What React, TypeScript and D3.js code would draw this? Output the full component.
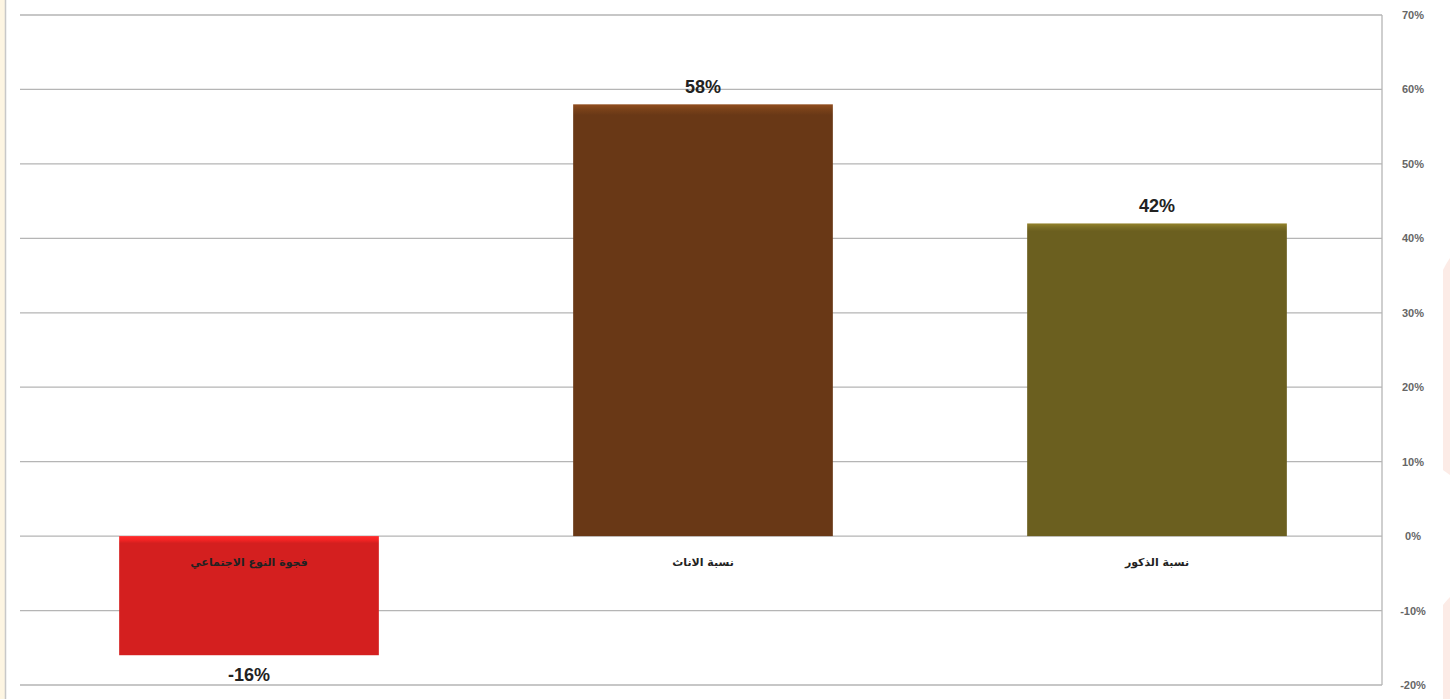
import React from "react";
import * as d3 from "d3";

const categories = ["فجوة النوع الاجتماعي", "نسبة الاناث", "نسبة الذكور"];
const values = [-16, 58, 42];
const colors = ["#d41f1f", "#693816", "#6b5f1f"];
const tickValues = [-20, -10, 0, 10, 20, 30, 40, 50, 60, 70];

const W = 1450;
const H = 699;

export default function App() {
  const x = d3.scaleBand<string>().domain(categories).range([22, 1384]).paddingInner(0.428).paddingOuter(0.214);
  const y = d3.scaleLinear().domain([-20, 70]).range([685, 15]);
  const y0 = y(0);
  return (
    <svg width={W} height={H} style={{ position: "absolute", left: 0, top: 0, background: "#fff" }}>
      <defs>
        {colors.map((c, i) => (
          <linearGradient key={i} id={`g${i}`} x1="0" y1="0" x2="0" y2="1">
            <stop offset="0" stopColor={d3.color(c)!.brighter(0.9).toString()} />
            <stop offset={i === 0 ? "0.03" : "0.012"} stopColor={d3.color(c)!.brighter(0.4).toString()} />
            <stop offset={i === 0 ? "0.06" : "0.025"} stopColor={c} />
            <stop offset="1" stopColor={c} />
          </linearGradient>
        ))}
      </defs>
      <rect x={0} y={0} width={5} height={H} fill="#fdf5e2" />
      <line x1={5.5} x2={5.5} y1={0} y2={H} stroke="#c8c8c8" strokeWidth={1.5} />
      <path d="M1443,270 Q1447,262 1450,258 L1450,475 L1443,470 Z" fill="#fcebe6" />
      <path d="M1443,605 Q1447,600 1450,597 L1450,699 L1443,699 Z" fill="#fcebe6" />
      {tickValues.map((t) => (
        <g key={t}>
          <line x1={20} x2={1382} y1={y(t)} y2={y(t)} stroke="#b5b5b5" strokeWidth={1.3} />
          <text x={1413} y={y(t) + 4} textAnchor="middle" fontFamily="Arial, Liberation Sans, sans-serif" fontSize={11} fill="#666" fontWeight="bold">
            {t}%
          </text>
        </g>
      ))}
      <line x1={1382} x2={1382} y1={15} y2={685} stroke="#b5b5b5" strokeWidth={1.3} />
      {categories.map((c, i) => {
        const v = values[i];
        const top = v >= 0 ? y(v) : y0;
        const h = Math.abs(y(v) - y0);
        const cx = x(c)! + x.bandwidth() / 2;
        return (
          <g key={c}>
            <rect x={x(c)!} y={top} width={x.bandwidth()} height={h} fill={`url(#g${i})`} />
            <text x={cx} y={v >= 0 ? top - 11 : top + h + 26} textAnchor="middle" fontFamily="Arial, Liberation Sans, sans-serif" fontSize={18} fontWeight="bold" fill="#222">
              {v}%
            </text>
            <text x={cx} y={566} textAnchor="middle" direction="rtl" fontFamily="DejaVu Sans, Arial, sans-serif" fontSize={11} fontWeight="bold" fill="#222">
              {c}
            </text>
          </g>
        );
      })}
    </svg>
  );
}
